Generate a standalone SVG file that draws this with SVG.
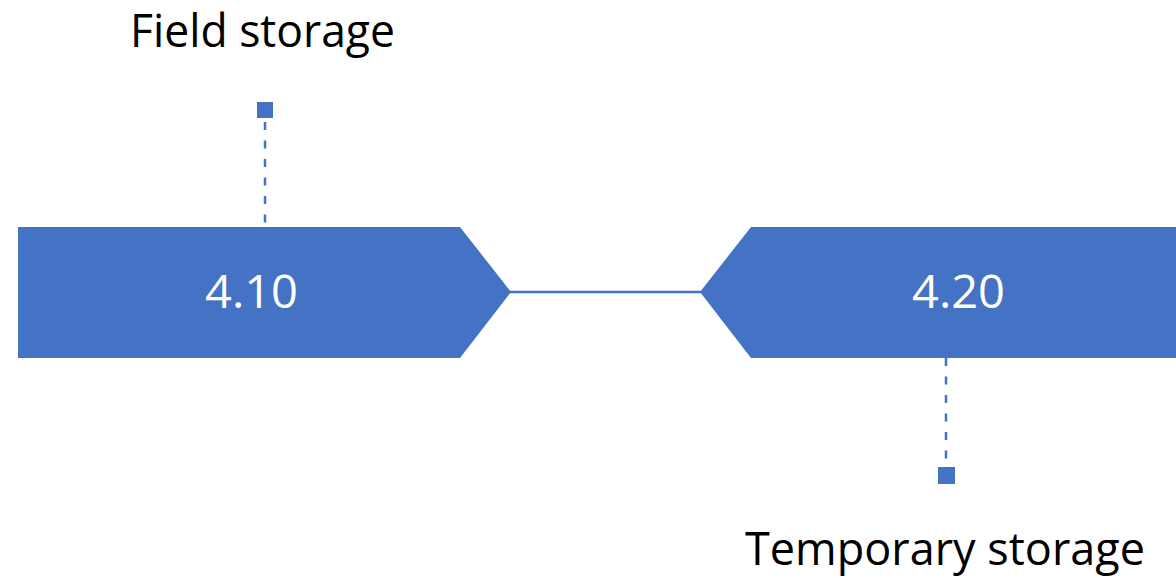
<svg xmlns="http://www.w3.org/2000/svg" width="1176" height="578" viewBox="0 0 1176 578">
<style>
.shape{fill:#4472C4;}
.lbl{font-family:"Open Sans","Noto Sans","Liberation Sans",sans-serif;font-size:46px;fill:#ffffff;}
.cap{font-family:"Open Sans","Noto Sans","Liberation Sans",sans-serif;font-size:45px;fill:#000000;}
.dash{stroke:#4472C4;stroke-width:2.5;stroke-dasharray:8 10.5;fill:none;}
.link{stroke:#4472C4;stroke-width:2.5;fill:none;}
.sq{fill:#4472C4;}
</style>
<rect width="1176" height="578" fill="#ffffff"/>
<g id="connectors">
<line class="link" x1="510" y1="292" x2="701" y2="292"/>
<line class="dash" x1="265" y1="122" x2="265" y2="228"/>
<line class="dash" x1="946" y1="358" x2="946" y2="466"/>
<rect class="sq" x="257" y="102" width="16" height="16"/>
<rect class="sq" x="938" y="467" width="17" height="17"/>
</g>
<g id="node-410">
<polygon class="shape" points="18,227 460,227 511,292 460,358 18,358"/>
<text class="lbl" x="205" y="308" textLength="93" lengthAdjust="spacingAndGlyphs">4.10</text>
</g>
<g id="node-420">
<polygon class="shape" points="700,292 751,227 1176,227 1176,358 751,358"/>
<text class="lbl" x="912" y="308" textLength="93" lengthAdjust="spacingAndGlyphs">4.20</text>
</g>
<g id="label-field">
<text class="cap" x="130" y="47" textLength="265" lengthAdjust="spacingAndGlyphs">Field storage</text>
</g>
<g id="label-temporary">
<text class="cap" x="745" y="565" textLength="400" lengthAdjust="spacingAndGlyphs">Temporary storage</text>
</g>
</svg>
